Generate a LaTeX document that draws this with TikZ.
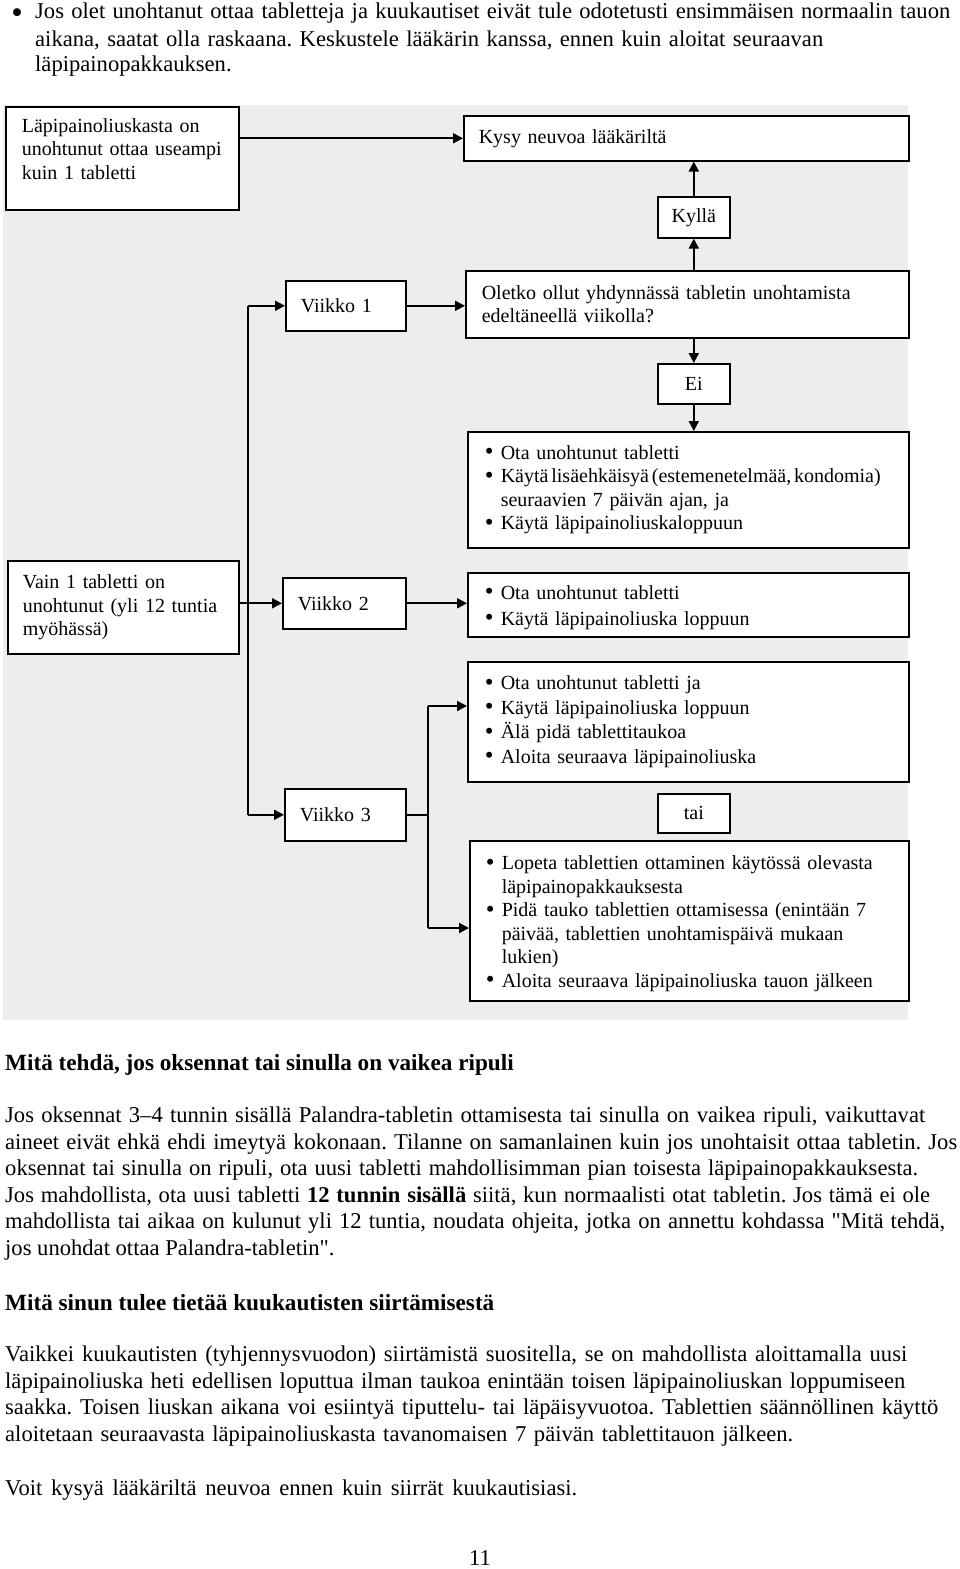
\documentclass[tikz,border=0pt]{standalone}
\usepackage{fontspec}
\usepackage{graphicx}
\setmainfont{Liberation Serif}
\usetikzlibrary{arrows.meta}
\definecolor{bg}{RGB}{237,237,237}
\newcommand\flowfont{\fontsize{20}{23.5}\selectfont}
\newcommand\bodyfont{\fontsize{22.6}{26.6}\selectfont\frenchspacing}
\newcommand\flowbul{\makebox[16pt][l]{\raisebox{-0.3pt}{\scalebox{1.25}{\textbullet}}}}
\newcommand\sq{\XeTeXglyph\XeTeXcharglyph"22\relax}
\tikzset{
  box/.style={draw=black, line width=1.6pt, fill=white, inner ysep=0pt, anchor=north west, font=\flowfont, align=left},
  tagbox/.style={draw=black, line width=1.6pt, fill=white, inner sep=0pt, anchor=north west, font=\flowfont, align=center},
  arr/.style={line width=2pt, -{Triangle[length=10pt,width=10pt]}},
  thin/.style={line width=1.4pt},
  bodyline/.style={anchor=base west, inner sep=0pt, font=\bodyfont},
  headline/.style={anchor=base west, inner sep=0pt, font=\fontsize{23.2}{27}\selectfont\bfseries},
}
\begin{document}
\begin{tikzpicture}[x=1pt,y=-1pt]
\useasboundingbox (0,0) rectangle (960,1569);
\fill[white] (0,0) rectangle (960,1569);

% top bullet paragraph
\node[bodyline, anchor=base] (tb) at (17,23) {\scalebox{1.45}{\textbullet}};
\node[bodyline] (t1) at (35,18) {\makebox[915pt][s]{Jos olet unohtanut ottaa tabletteja ja kuukautiset eivät tule odotetusti ensimmäisen normaalin tauon}};
\node[bodyline] (t2) at (35,46) {\makebox[788pt][s]{aikana, saatat olla raskaana. Keskustele lääkärin kanssa, ennen kuin aloitat seuraavan}};
\node[bodyline] (t3) at (35,71) {läpipainopakkauksen.};

% flowchart background
\fill[bg] (3,105) rectangle (908,1020);

\node[box, minimum width=233pt, minimum height=103pt, inner xsep=16pt, text width=201pt] (a) at (5,106)
  {Läpipainoliuskasta on\\unohtunut ottaa useampi\\kuin 1 tabletti\\[-12pt]\strut};
\node[box, minimum width=445pt, minimum height=45pt, inner xsep=15pt, text width=415pt] (kysy) at (463,115)
  {Kysy neuvoa lääkäriltä};
\node[tagbox, minimum width=72pt, minimum height=41pt] (kylla) at (657,196) {Kyllä};
\node[box, minimum width=120pt, minimum height=50pt, inner xsep=15pt, text width=90pt] (v1) at (285,280) {Viikko 1};
\node[box, minimum width=443pt, minimum height=67pt, inner xsep=16pt, text width=411pt] (oletko) at (465,270)
  {Oletko ollut yhdynnässä tabletin unohtamista\\edeltäneellä viikolla?};
\node[tagbox, minimum width=72pt, minimum height=40pt] (ei) at (657,363) {Ei};
\node[box, minimum width=441pt, minimum height=116pt, inner xsep=17pt, text width=407pt] (e1) at (467,431)
  {\flowbul Ota unohtunut tabletti\\
   \flowbul\mbox{\spaceskip=0.14em\relax Käytä lisäehkäisyä (estemenetelmää, kondomia)}\\
   \hspace*{16pt}seuraavien 7 päivän ajan, ja\\
   \flowbul Käytä läpipainoliuskaloppuun};
\node[box, minimum width=231pt, minimum height=93pt, inner xsep=15pt, text width=201pt] (vain) at (7,560)
  {Vain 1 tabletti on\\unohtunut (yli 12 tuntia\\myöhässä)};
\node[box, minimum width=123pt, minimum height=51pt, inner xsep=15pt, text width=93pt] (v2) at (282,577) {Viikko 2};
\node[box, minimum width=441pt, minimum height=64pt, inner xsep=17pt, text width=407pt, font=\fontsize{20}{26}\selectfont] (e2) at (467,572)
  {\rule{0pt}{20pt}\flowbul Ota unohtunut tabletti\\
   \flowbul Käytä läpipainoliuska loppuun};
\node[box, minimum width=441pt, minimum height=120pt, inner xsep=17pt, text width=407pt, font=\fontsize{20}{24.6}\selectfont] (e3) at (467,661)
  {\flowbul Ota unohtunut tabletti ja\\
   \flowbul Käytä läpipainoliuska loppuun\\
   \flowbul Älä pidä tablettitaukoa\\
   \flowbul Aloita seuraava läpipainoliuska};
\node[box, minimum width=121pt, minimum height=52pt, inner xsep=15pt, text width=91pt] (v3) at (284,788) {Viikko 3};
\node[tagbox, minimum width=72pt, minimum height=39pt] (tai) at (657,793) {tai};
\node[box, minimum width=439pt, minimum height=160pt, inner xsep=16pt, text width=407pt] (e4) at (469,840)
  {\rule{0pt}{20pt}\flowbul Lopeta tablettien ottaminen käytössä olevasta\\
   \hspace*{16pt}läpipainopakkauksesta\\
   \flowbul Pidä tauko tablettien ottamisessa (enintään 7\\
   \hspace*{16pt}päivää, tablettien unohtamispäivä mukaan\\
   \hspace*{16pt}lukien)\\
   \flowbul Aloita seuraava läpipainoliuska tauon jälkeen};

% connectors
\coordinate (bx) at (248,0);
\coordinate (j3) at (428,706);
\coordinate (j4) at (428,928);
\draw[arr] (a.east |- kysy.west) -- (kysy.west);
\draw[arr] (kylla.south |- oletko.north) -- (kylla.south);
\draw[arr] (kylla.north) -- (kylla.north |- kysy.south);
\draw[arr] (ei.north |- oletko.south) -- (ei.north);
\draw[arr] (ei.south) -- (ei.south |- e1.north);
\draw[arr] (v1.east) -- (v1.east -| oletko.west);
\draw[thin] (bx |- v1.west) -- (bx |- v3.west);
\draw[arr] (bx |- v1.west) -- (v1.west);
\draw[arr] (bx |- v3.west) -- (v3.west);
\draw[arr] (vain.east |- v2.west) -- (v2.west);
\draw[arr] (v2.east) -- (v2.east -| e2.west);
\draw[thin] (v3.east) -- (v3.east -| j3);
\draw[thin] (j3) -- (j4);
\draw[arr] (j3) -- (j3 -| e3.west);
\draw[arr] (j4) -- (j4 -| e4.west);

% text below
\node[headline] (h1) at (5,1070) {Mitä tehdä, jos oksennat tai sinulla on vaikea ripuli};
\node[bodyline] (p1) at (5,1122) {\makebox[920pt][s]{Jos oksennat 3–4 tunnin sisällä Palandra-tabletin ottamisesta tai sinulla on vaikea ripuli, vaikuttavat}};
\node[bodyline] (p2) at (5,1149) {\makebox[952pt][s]{aineet eivät ehkä ehdi imeytyä kokonaan. Tilanne on samanlainen kuin jos unohtaisit ottaa tabletin. Jos}};
\node[bodyline] (p3) at (5,1175) {\makebox[913pt][s]{oksennat tai sinulla on ripuli, ota uusi tabletti mahdollisimman pian toisesta läpipainopakkauksesta.}};
\node[bodyline] (p4) at (5,1202) {\makebox[925pt][s]{Jos mahdollista, ota uusi tabletti \textbf{12 tunnin sisällä} siitä, kun normaalisti otat tabletin. Jos tämä ei ole}};
\node[bodyline] (p5) at (5,1228) {\makebox[940pt][s]{mahdollista tai aikaa on kulunut yli 12 tuntia, noudata ohjeita, jotka on annettu kohdassa \sq Mitä tehdä,}};
\node[bodyline] (p6) at (5,1255) {jos unohdat ottaa Palandra-tabletin\sq.};

\node[headline] (h2) at (5,1310) {Mitä sinun tulee tietää kuukautisten siirtämisestä};
\node[bodyline] (q1) at (5,1361) {\makebox[902pt][s]{Vaikkei kuukautisten (tyhjennysvuodon) siirtämistä suositella, se on mahdollista aloittamalla uusi}};
\node[bodyline] (q2) at (5,1388) {\makebox[900pt][s]{läpipainoliuska heti edellisen loputtua ilman taukoa enintään toisen läpipainoliuskan loppumiseen}};
\node[bodyline] (q3) at (5,1414) {\makebox[933pt][s]{saakka. Toisen liuskan aikana voi esiintyä tiputtelu- tai läpäisyvuotoa. Tablettien säännöllinen käyttö}};
\node[bodyline] (q4) at (5,1441) {\makebox[788pt][s]{aloitetaan seuraavasta läpipainoliuskasta tavanomaisen 7 päivän tablettitauon jälkeen.}};
\node[bodyline] (r1) at (5,1495) {\makebox[572pt][s]{Voit kysyä lääkäriltä neuvoa ennen kuin siirrät kuukautisiasi.}};

\node[bodyline, anchor=base] (pg) at (480,1565) {11};
\end{tikzpicture}
\end{document}
